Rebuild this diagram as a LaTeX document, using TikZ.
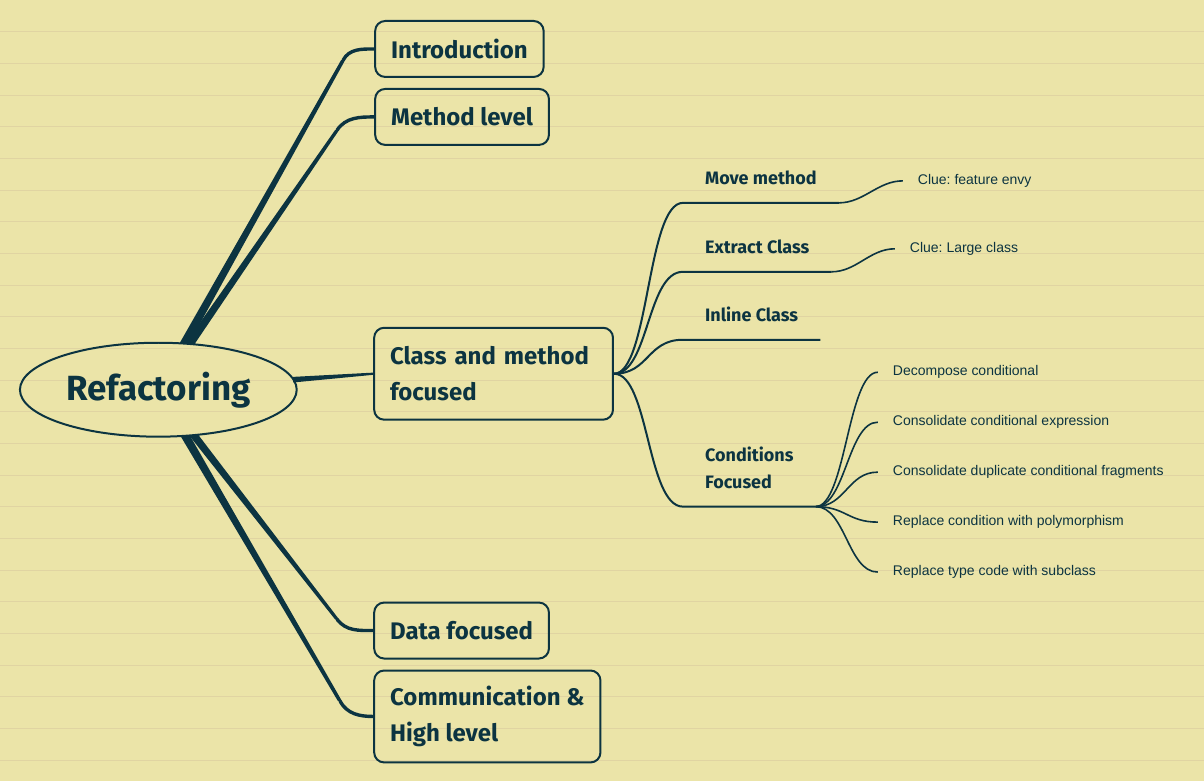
\documentclass[tikz,border=0pt]{standalone}
\usepackage{fontspec}
\setmainfont{Fira Sans}
\newfontfamily\leaffont{Liberation Sans}
\usepackage{tikz}
\usetikzlibrary{positioning,calc,shapes.geometric}
\definecolor{paper}{HTML}{EBE4A8}
\definecolor{ruling}{HTML}{E0D4A2}
\definecolor{ink}{HTML}{0C3441}

\begin{document}
\begin{tikzpicture}[
    x=1pt, y=-1pt,
    rootnode/.style={ellipse, draw=ink, line width=2pt, text=ink,
                     minimum width=277pt, minimum height=94pt, inner sep=0pt,
                     font=\bfseries\fontsize{35}{42}\selectfont},
    topic/.style={draw=ink, line width=2pt, rounded corners=10pt,
                  anchor=north west, align=left, text=ink,
                  inner xsep=16pt, inner ysep=0pt,
                  font=\bfseries\fontsize{24}{36}\selectfont},
    branch/.style={anchor=south west, align=left, text=ink,
                   inner xsep=0pt, inner ysep=18pt, text depth=0pt,
                   font=\bfseries\fontsize{18}{27}\selectfont},
    leaf/.style={anchor=west, text=ink, inner xsep=15pt, inner ysep=0pt,
                 text height=10pt, text depth=3pt,
                 font=\leaffont\fontsize{14}{16}\selectfont\frenchspacing},
    sublink/.style={draw=ink, line width=2pt},
    leaflink/.style={draw=ink, line width=1.6pt},
]
% paper
\fill[paper] (0,0) rectangle (1204,782);
\foreach \k in {1,...,24}
    \draw[ruling, line width=0.9pt] (0,{31.7*\k}) -- (1204,{31.7*\k});

% root and main topics
\node[rootnode] (root) at (158,390) {Refactoring};
\node[topic, minimum height=56pt] (intro) at (374,20) {Introduction};
\node[topic, minimum height=56pt] (method) at (374,88) {Method level};
\node[topic, minimum height=92pt, text width=207pt] (classm) at (373,327) {Class and method\\focused};
\node[topic, minimum height=56pt] (data) at (373,602) {Data focused};
\node[topic, minimum height=92pt] (comm) at (373,670) {Communication \&\\High level};

% second level
\node[branch] (movem) at (705,203) {Move method};
\node[branch] (extract) at (705,272) {Extract Class};
\node[branch] (inline) at (705,340) {Inline Class};
\node[branch] (cond) at (705,507) {Conditions\\Focused};

% leaves
\node[leaf] (clue1) at (903,181) {Clue: feature envy};
\node[leaf] (clue2) at (895,249) {Clue: Large class};
\foreach \i/\txt in {1/Decompose conditional,
                     2/Consolidate conditional expression,
                     3/Consolidate duplicate conditional fragments,
                     4/Replace condition with polymorphism,
                     5/Replace type code with subclass}
    \node[leaf] (c\i) at (878,{322.5+50*\i}) {\txt};

% thick links from the root
\coordinate (bintro) at (343,60);
\coordinate (bmethod) at (337,130);
\coordinate (bdata) at (337,620);
\coordinate (bcomm) at (340,702);
\foreach \n/\cut/\ang in {intro/0.14/61, method/0.176/55, data/0.198/-52, comm/0.148/-60} {
    \fill[ink] ($(root.center)!\cut!(b\n)+(-4.8,0)$) -- ($(b\n)+(-2,0)$)
        -- ($(b\n)+(2,0)$) -- ($(root.center)!\cut!(b\n)+(4.8,0)$) -- cycle;
    \draw[ink, line width=3.4pt, line cap=round] (b\n) to[out=\ang, in=180] (\n.west);
}
\fill[ink] ($(root.center)!0.627!(classm.west)+(0,-2.8)$) -- ($(classm.west)+(0,-1.1)$)
    -- ($(classm.west)+(0,1.1)$) -- ($(root.center)!0.627!(classm.west)+(0,2.8)$) -- cycle;

% class and method branches
\foreach \n in {movem, extract, inline, cond}
    \draw[sublink] (classm.east) .. controls +(35,0) and +(-36,0) .. ($(\n.south west)+(-22,0)$)
        -- ($(\n.south east)+(22,0)$) coordinate (\n-end);

\draw[leaflink] (movem-end) .. controls +(25,0) and +(-25,0) .. (clue1.west);
\draw[leaflink] (extract-end) .. controls +(25,0) and +(-25,0) .. (clue2.west);
\foreach \i in {1,...,5}
    \draw[leaflink] (cond-end) .. controls +(30,0) and +(-30,0) .. (c\i.west);
\end{tikzpicture}
\end{document}
